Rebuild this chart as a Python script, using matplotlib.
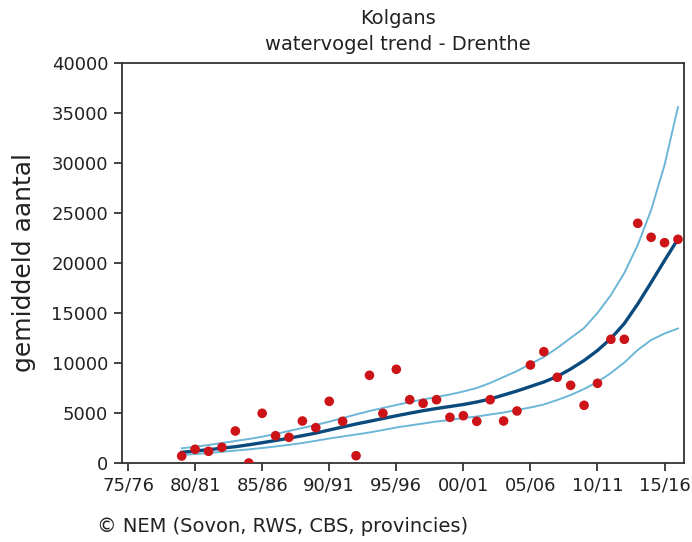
import matplotlib
matplotlib.use("Agg")
import matplotlib.pyplot as plt

# ---- data ----
years = list(range(1979, 2017))
counts = [700, 1370, 1170, 1570, 3200, 0, 4970, 2730, 2570, 4200,
          3530, 6170, 4170, 730, 8770, 4970, 9370, 6330, 5970, 6330,
          4570, 4730, 4170, 6330, 4200, 5200, 9800, 11130, 8570, 7770,
          5770, 7970, 12370, 12370, 23970, 22570, 22030, 22370]
trend = [1070, 1200, 1330, 1480, 1630, 1820, 2030, 2250, 2480, 2730,
         2990, 3300, 3600, 3900, 4170, 4450, 4720, 4980, 5230, 5450,
         5650, 5850, 6100, 6400, 6800, 7200, 7650, 8100, 8650, 9400,
         10250, 11250, 12450, 13950, 15900, 18050, 20250, 22400]
upper = [1470, 1620, 1800, 2000, 2200, 2400, 2630, 2900, 3200, 3500,
         3800, 4130, 4500, 4850, 5200, 5500, 5800, 6100, 6350, 6600,
         6850, 7150, 7500, 8000, 8600, 9200, 9900, 10600, 11500, 12500,
         13500, 15000, 16800, 19000, 21800, 25300, 29800, 35600]
lower = [800, 900, 1000, 1120, 1240, 1360, 1500, 1650, 1820, 2000,
         2220, 2450, 2650, 2850, 3050, 3300, 3550, 3750, 3950, 4150,
         4300, 4500, 4650, 4850, 5050, 5300, 5550, 5850, 6300, 6800,
         7400, 8100, 9000, 10050, 11300, 12300, 12950, 13450]
tick_years = [1975, 1980, 1985, 1990, 1995, 2000, 2005, 2010, 2015]
tick_labels = ["75/76", "80/81", "85/86", "90/91", "95/96", "00/01",
               "05/06", "10/11", "15/16"]
y_ticks = [0, 5000, 10000, 15000, 20000, 25000, 30000, 35000, 40000]

plt.rcParams['font.family'] = ['DejaVu Sans']

fig = plt.figure(figsize=(6.92, 5.42), dpi=100)
ax = fig.add_axes([122 / 692, 1 - 463 / 542, (684 - 122) / 692, (463 - 63) / 542])

ax.plot(years, upper, color="#6cb6d6", lw=1.4, zorder=2)
ax.plot(years, lower, color="#6cb6d6", lw=1.4, zorder=2)
ax.plot(years, trend, color="#0b4a7c", lw=2.4, zorder=3)
ax.scatter(years, counts, s=48, color="#cc1418", edgecolors="none", zorder=4)

ax.set_xlim(1974.55, 2016.45)
ax.set_ylim(0, 40000)
ax.set_xticks(tick_years)
ax.set_xticklabels(tick_labels)
ax.set_yticks(y_ticks)
ax.set_yticklabels([str(v) for v in y_ticks])
ax.tick_params(direction="out", length=6, width=1.2, labelsize=13, pad=4,
               color="#222222", labelcolor="#222222")
for s in ax.spines.values():
    s.set_linewidth(1.3)
    s.set_color("#333333")

fig.text(24 / 692, 1 - 263 / 542, "gemiddeld aantal", rotation=90,
         ha="center", va="center", fontsize=18, color="#222222")
fig.text(398 / 692, 1 - 19 / 542, "Kolgans", ha="center", va="center",
         fontsize=14, color="#222222")
fig.text(398 / 692, 1 - 45 / 542, "watervogel trend - Drenthe", ha="center",
         va="center", fontsize=14, color="#222222")
fig.text(97 / 692, 1 - 527 / 542, "\u00a9 NEM (Sovon, RWS, CBS, provincies)",
         ha="left", va="center", fontsize=14, color="#222222")

fig.savefig("out.png", dpi=100)
